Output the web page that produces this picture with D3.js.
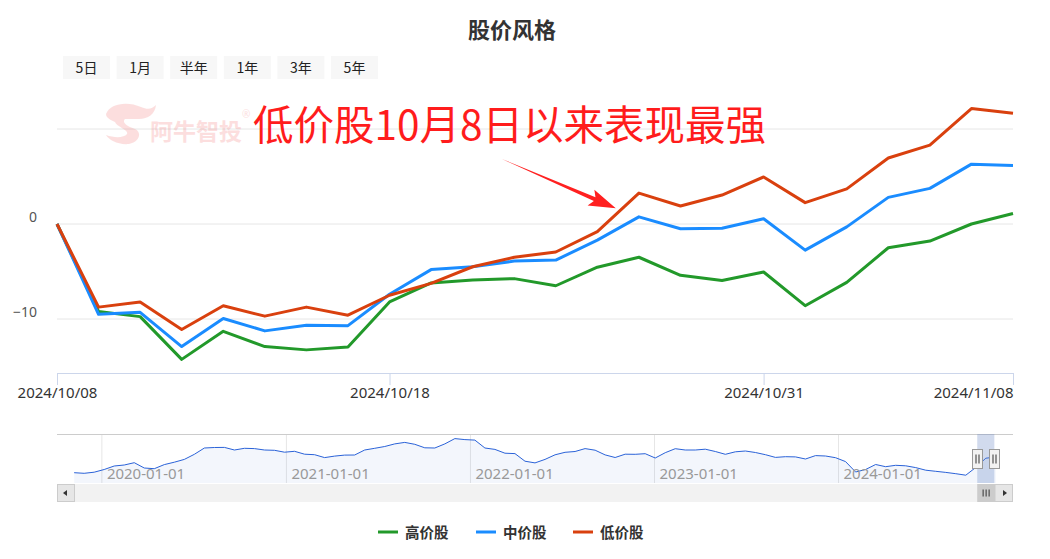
<!DOCTYPE html>
<html>
<head>
<meta charset="utf-8">
<script src="https://cdn.jsdelivr.net/npm/d3@7"></script>
<style>
  body { margin: 0; background: #fff; }
  svg { display: block; font-family: "Noto Sans", "Noto Sans CJK SC", sans-serif; }
</style>
</head>
<body>
<div id="chart"></div>
<script>
// Data
const dates = [
  "2024-10-08", "2024-10-09", "2024-10-10", "2024-10-11", "2024-10-14", "2024-10-15",
  "2024-10-16", "2024-10-17", "2024-10-18", "2024-10-21", "2024-10-22", "2024-10-23",
  "2024-10-24", "2024-10-25", "2024-10-28", "2024-10-29", "2024-10-30", "2024-10-31",
  "2024-11-01", "2024-11-04", "2024-11-05", "2024-11-06", "2024-11-07", "2024-11-08"
];
const highPrice = [0, -9.2, -9.75, -14.25, -11.3, -12.9, -13.25, -12.95, -8.2, -6.2, -5.9, -5.75,
  -6.5, -4.55, -3.5, -5.4, -5.95, -5.05, -8.6, -6.15, -2.5, -1.8, 0.0, 1.1];
const midPrice = [0, -9.5, -9.3, -12.9, -9.95, -11.25, -10.65, -10.7, -7.4, -4.8, -4.5, -3.9,
  -3.8, -1.7, 0.75, -0.5, -0.45, 0.55, -2.75, -0.3, 2.8, 3.75, 6.3, 6.15];
const lowPrice = [0, -8.75, -8.2, -11.1, -8.6, -9.7, -8.75, -9.6, -7.5, -6.25, -4.5, -3.5,
  -2.95, -0.8, 3.25, 1.9, 3.05, 4.95, 2.25, 3.7, 6.95, 8.3, 12.15, 11.65];
const seriesNames = ["高价股", "中价股", "低价股"];
const seriesColors = ["#22992a", "#1a8cff", "#d9400e"];
const xTickDates = ["2024-10-08", "2024-10-18", "2024-10-31", "2024-11-08"];
const yTicks = [-10, 0, 10];
const yLabelTicks = [-10, 0];
const rangeButtons = ["5日", "1月", "半年", "1年", "3年", "5年"];

// Navigator (long history)
const navFirst = "2019-11-07";
const navLast = "2024-11-08";
const navValues = [
  2603, 2597, 2608, 2635, 2670, 2680, 2703, 2650, 2643, 2684, 2708, 2736, 2787, 2850, 2855, 2856,
  2830, 2847, 2844, 2830, 2827, 2808, 2817, 2788, 2783, 2754, 2769, 2779, 2780, 2830, 2847, 2865,
  2891, 2906, 2887, 2852, 2850, 2891, 2944, 2934, 2929, 2850, 2836, 2798, 2794, 2718, 2701, 2736,
  2782, 2807, 2815, 2844, 2828, 2781, 2755, 2788, 2787, 2793, 2750, 2803, 2843, 2830, 2830, 2838,
  2815, 2787, 2812, 2820, 2805, 2783, 2756, 2763, 2761, 2740, 2774, 2770, 2753, 2714, 2610, 2635,
  2685, 2663, 2677, 2672, 2654, 2628, 2617, 2606, 2593, 2578, 2656, 2748, 2760
];

const width = 1050, height = 559;
const plot = { left: 57, right: 1013, top: 100, bottom: 373 };
const nav = { top: 434, bottom: 483 };
const parse = d3.timeParse("%Y-%m-%d");

const svg = d3.select("#chart").append("svg")
  .attr("width", width).attr("height", height);

// Title
svg.append("text")
  .attr("x", 512).attr("y", 38)
  .attr("text-anchor", "middle")
  .style("font-family", "'Noto Sans CJK SC', sans-serif")
  .style("font-size", "22px").style("font-weight", "bold")
  .attr("fill", "#333")
  .text("股价风格");

// Range buttons
const btn = svg.append("g").selectAll("g").data(rangeButtons).join("g")
  .attr("transform", (d, i) => `translate(${63 + i * 53.6},56)`);
btn.append("rect").attr("width", 47).attr("height", 23).attr("fill", "#f7f7f7");
btn.append("text").attr("x", 23.5).attr("y", 17).attr("text-anchor", "middle")
  .style("font-family", "'Noto Sans CJK SC', sans-serif")
  .style("font-size", "14px").attr("fill", "#222").text((d) => d);

// Scales
const x = d3.scalePoint().domain(dates).range([plot.left, plot.right]);
const y = d3.scaleLinear().domain([-10, 10]).range([319, 129]);

// Gridlines
svg.append("g").selectAll("line").data(yTicks).join("line")
  .attr("x1", plot.left).attr("x2", plot.right)
  .attr("y1", (d) => y(d)).attr("y2", (d) => y(d))
  .attr("stroke", "#e6e6e6").attr("stroke-width", 1);

// Y labels
svg.append("g").selectAll("text").data(yLabelTicks).join("text")
  .attr("x", 37).attr("y", (d) => y(d) - 2)
  .attr("text-anchor", "end")
  .style("font-size", "14px").attr("fill", "#555")
  .text((d) => d3.format("d")(d));

// Watermark
const wm = svg.append("g").attr("opacity", 0.18);
wm.append("path")
  .attr("d", "M106,114 C110,103 128,101 141,107 C148,110 152,109 156,105 C155,114 148,119 139,119 L125,119 C121,123 129,127 135,129 C142,132 140,142 129,144 C118,145 109,140 106,135 C114,138 124,138 127,134 C129,130 117,127 115,122 C111,120 106,118 106,114 Z")
  .attr("fill", "#f05050");
wm.append("text").attr("x", 150).attr("y", 140)
  .style("font-family", "'Noto Sans CJK SC', sans-serif")
  .style("font-size", "23px").style("font-weight", "bold")
  .attr("fill", "#f05050").text("阿牛智投");
wm.append("text").attr("x", 242).attr("y", 118)
  .style("font-size", "10px").attr("fill", "#f05050").text("®");

// X axis
const xAxis = svg.append("g")
  .attr("transform", `translate(0,${plot.bottom})`)
  .call(d3.axisBottom(x).tickValues(xTickDates).tickSize(12).tickPadding(2)
    .tickFormat((d) => d.replace(/-/g, "/")));
xAxis.select(".domain").attr("stroke", "#ccd6eb").attr("d", `M${plot.left},0.5H${plot.right}`);
xAxis.selectAll(".tick line").attr("stroke", "#ccd6eb");
xAxis.selectAll(".tick text")
  .style("font-size", "15px").style("font-family", "'Noto Sans', sans-serif")
  .attr("fill", "#333")
  .attr("text-anchor", (d, i) => (i === xTickDates.length - 1 ? "end" : "middle"));

// Lines
const allSeries = [highPrice, midPrice, lowPrice];
const line = d3.line()
  .x((d, i) => x(dates[i]))
  .y((d) => y(d));
svg.append("g").selectAll("path").data(allSeries).join("path")
  .attr("d", line)
  .attr("fill", "none")
  .attr("stroke", (d, i) => seriesColors[i])
  .attr("stroke-width", 3)
  .attr("stroke-linejoin", "round");

// Annotation
svg.append("text").attr("x", 253).attr("y", 140)
  .style("font-family", "'Noto Sans CJK SC', sans-serif")
  .style("font-size", "40.5px").attr("fill", "#ff1c1c")
  .text("低价股10月8日以来表现最强");
const ang = Math.atan2(208 - 159, 615 - 502) * 180 / Math.PI;
svg.append("polygon")
  .attr("transform", `translate(502,159) rotate(${ang})`)
  .attr("points", "0,0 101,-2 97,-8.5 124,0 97,8.5 101,2")
  .attr("fill", "#ff2020");

// Navigator
const navX = d3.scaleTime()
  .domain([parse("2019-10-04"), parse("2024-12-12")])
  .range([plot.left, plot.right]);
const navY = d3.scaleLinear().domain([2500, 3000]).range([nav.bottom, nav.top - 1]);
const navT = d3.scaleLinear().domain([0, navValues.length - 1])
  .range([parse(navFirst).getTime(), parse(navLast).getTime()]);

const years = d3.timeYear.range(parse("2020-01-01"), parse("2024-06-01"));
svg.append("g").selectAll("line").data(years).join("line")
  .attr("x1", (d) => navX(d)).attr("x2", (d) => navX(d))
  .attr("y1", nav.top).attr("y2", nav.bottom)
  .attr("stroke", "#e6e6e6");

const navArea = d3.area()
  .x((d, i) => navX(navT(i)))
  .y0(nav.bottom).y1((d) => navY(d));
svg.append("path").datum(navValues).attr("d", navArea)
  .attr("fill", "#3366cc").attr("fill-opacity", 0.06);
svg.append("path").datum(navValues)
  .attr("d", d3.line().x((d, i) => navX(navT(i))).y((d) => navY(d)))
  .attr("fill", "none").attr("stroke", "#2a62d8").attr("stroke-width", 1);

svg.append("g").selectAll("text").data(years).join("text")
  .attr("x", (d) => navX(d) + 5).attr("y", 479)
  .style("font-size", "15px").attr("fill", "#999")
  .text(d3.timeFormat("%Y-%m-%d"));

svg.append("line")
  .attr("x1", plot.left).attr("x2", plot.right)
  .attr("y1", nav.top + 0.5).attr("y2", nav.top + 0.5)
  .attr("stroke", "#cccccc");

// Selected window
const selStart = navX(parse(dates[0])) - 3;
const selEnd = navX(parse(dates[dates.length - 1])) - 1.5;
svg.append("rect")
  .attr("x", selStart).attr("y", nav.top)
  .attr("width", selEnd - selStart).attr("height", nav.bottom - nav.top)
  .attr("fill", "rgba(102,133,194,0.3)");

// Scrollbar
const sb = svg.append("g").attr("transform", "translate(0,484)");
sb.append("rect").attr("x", plot.left).attr("width", plot.right - plot.left).attr("height", 18)
  .attr("fill", "#f2f2f2");
sb.append("rect").attr("x", plot.left + 0.5).attr("y", 0.5).attr("width", 17).attr("height", 17)
  .attr("fill", "#e6e6e6").attr("stroke", "#cccccc");
sb.append("path").attr("d", `M${plot.left + 6},9 L${plot.left + 10},6 L${plot.left + 10},12 Z`).attr("fill", "#333");
sb.append("rect").attr("x", plot.right - 18).attr("y", 0.5).attr("width", 17.5).attr("height", 17)
  .attr("fill", "#e6e6e6").attr("stroke", "#cccccc");
sb.append("path").attr("d", `M${plot.right - 6},9 L${plot.right - 10},6 L${plot.right - 10},12 Z`).attr("fill", "#333");
sb.append("rect").attr("x", selStart).attr("y", 0).attr("width", plot.right - 18 - selStart).attr("height", 18)
  .attr("fill", "#cccccc");
[-3, 0, 3].forEach((o) => {
  const cx = (selStart + plot.right - 18) / 2 + o;
  sb.append("line").attr("x1", cx).attr("x2", cx).attr("y1", 5.5).attr("y2", 12.5)
    .attr("stroke", "#333").attr("stroke-width", 1);
});

// Handles
[selStart, selEnd].forEach((hx) => {
  const h = svg.append("g").attr("transform", `translate(${Math.round(hx) + 0.5},449.5)`);
  h.append("rect").attr("x", -5).attr("width", 10).attr("height", 19)
    .attr("fill", "#f2f2f2").attr("stroke", "#999999");
  h.append("line").attr("x1", -1.5).attr("x2", -1.5).attr("y1", 5).attr("y2", 14).attr("stroke", "#333");
  h.append("line").attr("x1", 1.5).attr("x2", 1.5).attr("y1", 5).attr("y2", 14).attr("stroke", "#333");
});

// Legend
const legendX = [378, 476, 573];
const legend = svg.append("g").selectAll("g").data(seriesNames).join("g")
  .attr("transform", (d, i) => `translate(${legendX[i]},532)`);
legend.append("line").attr("x1", 0).attr("x2", 20)
  .attr("stroke", (d, i) => seriesColors[i]).attr("stroke-width", 3);
legend.append("text").attr("x", 27).attr("y", 5.5)
  .style("font-family", "'Noto Sans CJK SC', sans-serif")
  .style("font-size", "14.5px").style("font-weight", "bold")
  .attr("fill", "#333").text((d) => d);
</script>
</body>
</html>
